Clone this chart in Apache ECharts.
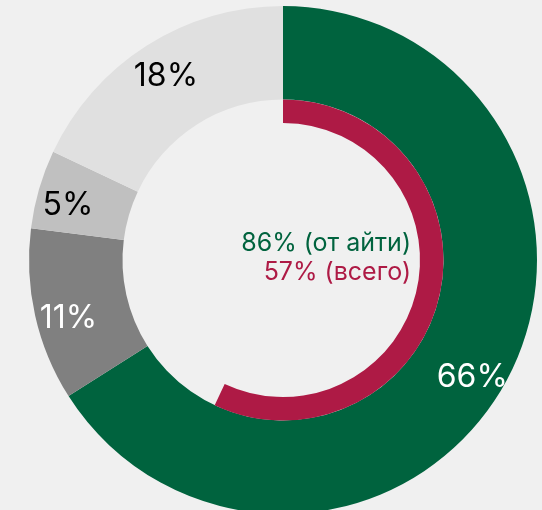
<!DOCTYPE html>
<html>
<head>
<meta charset="utf-8">
<script src="https://cdn.jsdelivr.net/npm/echarts@6/dist/echarts.min.js"></script>
<style>
html,body{margin:0;padding:0;background:#f0f0f0;}
#c{width:542px;height:510px;}
</style>
</head>
<body>
<div id="c"></div>
<script>
// Outer ring
const categories = ['ИТ', 'Категория 2', 'Категория 3', 'Категория 4'];
const outerValues = [66, 11, 5, 18];
const outerColors = ['#00633e', '#808080', '#c0c0c0', '#e0e0e0'];
const labelColors = ['#ffffff', '#ffffff', '#000000', '#000000'];
// Inner ring
const innerValue = 57;
const centerLines = ['86% (от айти)', '57% (всего)'];
const centerColors = ['#00633e', '#ae1a45'];

const FONT = 'Inter';
const center = [283, 260];
const labelOffsets = [[-7, 9], [4, 10], [0, 8], [3, 6]];

const chart = echarts.init(document.getElementById('c'), null, {renderer: 'canvas'});
chart.setOption({
  backgroundColor: '#f0f0f0',
  animation: false,
  series: [
    {
      type: 'pie',
      center: center,
      radius: [160.5, 254],
      startAngle: 90,
      clockwise: true,
      silent: true,
      label: {show: false},
      labelLine: {show: false},
      data: outerValues.map((v, i) => ({
        name: categories[i], value: v,
        itemStyle: {color: outerColors[i]}
      }))
    },
    {
      // label layer: same data, label at the ring's visual label radius
      type: 'pie',
      center: center,
      radius: [188, 254],
      startAngle: 90,
      clockwise: true,
      silent: true,
      itemStyle: {color: 'rgba(0,0,0,0)'},
      label: {
        show: true,
        position: 'inside',
        fontFamily: FONT,
        fontSize: 32,
        formatter: p => p.value + '%'
      },
      labelLine: {show: false},
      data: outerValues.map((v, i) => ({
        name: categories[i], value: v,
        label: {color: labelColors[i], offset: labelOffsets[i]}
      }))
    },
    {
      type: 'pie',
      center: center,
      radius: [137, 160.5],
      startAngle: 90,
      clockwise: true,
      silent: true,
      label: {show: false},
      labelLine: {show: false},
      data: [
        {name: 'всего', value: innerValue, itemStyle: {color: centerColors[1]}},
        {name: 'прочее', value: 100 - innerValue, itemStyle: {color: 'rgba(0,0,0,0)'}}
      ]
    }
  ],
  graphic: centerLines.map((t, i) => ({
    type: 'text',
    x: 411,
    y: 243 + i * 29.5,
    silent: true,
    style: {
      text: t,
      fill: centerColors[i],
      font: '25px ' + FONT,
      textAlign: 'right',
      textVerticalAlign: 'middle'
    }
  }))
});
</script>
</body>
</html>
